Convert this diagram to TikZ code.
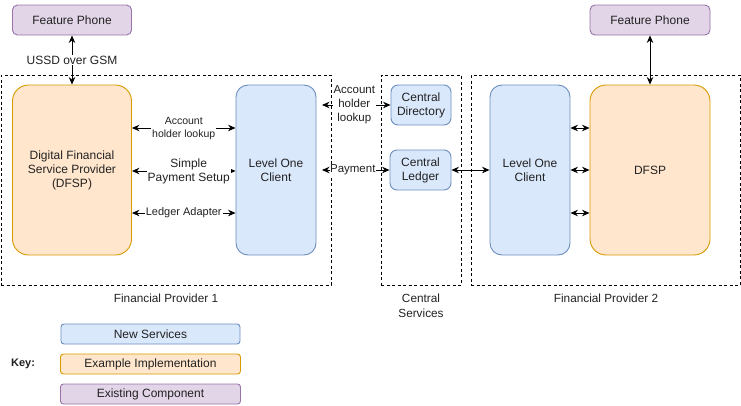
\documentclass[tikz,border=0pt]{standalone}
\usepackage{fontspec}
\setmainfont{Liberation Sans}
\usetikzlibrary{arrows.meta}
\definecolor{blueF}{HTML}{DAE8FC}
\definecolor{blueD}{HTML}{6C8EBF}
\definecolor{orF}{HTML}{FFE6CC}
\definecolor{orD}{HTML}{D79B00}
\definecolor{puF}{HTML}{E1D5E7}
\definecolor{puD}{HTML}{9673A6}
\definecolor{txt}{HTML}{222222}
\tikzset{
  box/.style={draw, line width=0.9pt, inner sep=0pt, align=center, text=txt, font=\fontsize{12}{14}\selectfont},
  newsvc/.style={box, fill=blueF, draw=blueD},
  impl/.style={box, fill=orF, draw=orD},
  exist/.style={box, fill=puF, draw=puD},
  group/.style={draw, line width=0.9pt, dash pattern=on 3pt off 2.5pt},
  conn/.style={line width=0.9pt, {Stealth[length=7.5pt,width=6.5pt]}-{Stealth[length=7.5pt,width=6.5pt]}},
  lbl/.style={fill=white, inner sep=1pt, align=center, text=txt, font=\fontsize{11}{13}\selectfont},
  grpcaption/.style={align=center, text=txt, font=\fontsize{11.8}{15}\selectfont},
}
\begin{document}
\begin{tikzpicture}[x=1pt,y=-1pt]
\useasboundingbox (0,0) rectangle (741,405);
% groups
\node[group, minimum width=330pt, minimum height=210pt, inner sep=0pt] (g1) at (166,180) {};
\node[group, minimum width=80pt, minimum height=210pt, inner sep=0pt] (gc) at (421,180) {};
\node[group, minimum width=269pt, minimum height=210pt, inner sep=0pt] (g2) at (605.5,180) {};
% boxes
\node[exist, rounded corners=5pt, minimum width=119pt, minimum height=30pt] (fp1) at (72,20) {Feature Phone};
\node[exist, rounded corners=5pt, minimum width=120pt, minimum height=30pt] (fp2) at (650,20) {Feature Phone};
\node[impl, rounded corners=16pt, minimum width=119pt, minimum height=170pt] (d1) at (72,170) {Digital Financial\\Service Provider\\(DFSP)};
\node[newsvc, rounded corners=12pt, minimum width=80pt, minimum height=170pt] (l1) at (276,170) {Level One\\Client};
\node[newsvc, rounded corners=7pt, minimum width=60pt, minimum height=40pt] (cd) at (421,105) {Central\\Directory};
\node[newsvc, rounded corners=7pt, minimum width=61pt, minimum height=40pt] (cl) at (420.5,170) {Central\\Ledger};
\node[newsvc, rounded corners=12pt, minimum width=80pt, minimum height=170pt] (l2) at (530,170) {Level One\\Client};
\node[impl, rounded corners=16pt, minimum width=120pt, minimum height=170pt] (d2) at (650,170) {DFSP};
% connectors
\draw[conn] (fp1.south) -- node[lbl, font=\fontsize{12}{14}\selectfont]{USSD over GSM} (d1.north);
\draw[conn] (fp2.south) -- (d2.north);
\draw[conn] (d1.east |- 0,128) -- node[lbl, font=\fontsize{10.5}{13}\selectfont]{Account\\holder lookup} (l1.west |- 0,128);
\draw[conn] (d1.east |- 0,171) -- node[lbl, font=\fontsize{12}{14}\selectfont, xshift=5pt]{Simple\\Payment Setup} (l1.west |- 0,171);
\draw[conn] (d1.east |- 0,213) -- node[lbl]{Ledger Adapter} (l1.west |- 0,213);
\coordinate (a1) at (322,105);
\coordinate (a2) at (322,170);
\draw[conn] (a1) -- node[lbl, font=\fontsize{11.5}{14}\selectfont, inner sep=0.5pt, xshift=-2pt]{Account\\holder\\lookup} (cd.west);
\draw[conn] (a2) -- node[lbl, font=\fontsize{11.5}{14}\selectfont, inner sep=0.5pt, xshift=-3pt]{Payment} (cl.west |- 0,170);
\draw[conn] (cl.east |- 0,170) -- (l2.west |- 0,170);
\draw[conn] (l2.east |- 0,128) -- (d2.west |- 0,128);
\draw[conn] (l2.east |- 0,170) -- (d2.west |- 0,170);
\draw[conn] (l2.east |- 0,213) -- (d2.west |- 0,213);
% captions
\node[grpcaption] (c1) at (166,298) {Financial Provider 1};
\node[grpcaption] (c2) at (421,305.5) {Central\\Services};
\node[grpcaption] (c3) at (606,298) {Financial Provider 2};
% key
\node[text=txt, font=\bfseries\fontsize{11}{13}\selectfont] (key) at (23,364) {Key:};
\node[newsvc, rounded corners=3pt, minimum width=179pt, minimum height=20pt] (k1) at (150.5,334) {New Services};
\node[impl, rounded corners=3pt, minimum width=180pt, minimum height=20pt] (k2) at (150.5,364) {Example Implementation};
\node[exist, rounded corners=3pt, minimum width=180pt, minimum height=20pt] (k3) at (150.5,394) {Existing Component};
\end{tikzpicture}
\end{document}
